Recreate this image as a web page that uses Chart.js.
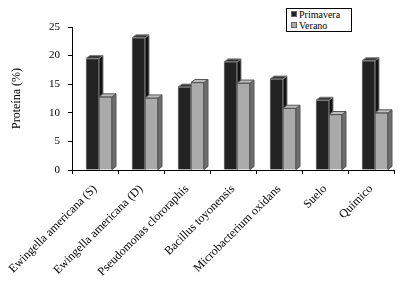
<!DOCTYPE html>
<html>
<head>
<meta charset="utf-8">
<script src="https://cdn.jsdelivr.net/npm/chart.js@4"></script>
<style>
  body { margin: 0; background: #fff; }
  #wrap { position: relative; width: 419px; height: 288px; }
  #legend {
    position: absolute; left: 286px; top: 8px; width: 64px; height: 22px;
    border: 1px solid #000; background: #fff;
    font: 10px "Liberation Serif", serif; color: #000;
  }
  #legend div { height: 11px; line-height: 11px; padding-left: 4px; white-space: nowrap; }
  #legend span {
    display: inline-block; width: 4px; height: 4px; border: 1px solid #666;
    margin-right: 2px; vertical-align: 1px;
  }
</style>
</head>
<body>
<div id="wrap">
  <canvas id="chart"></canvas>
  <div id="legend">
    <div><span style="background:#222"></span>Primavera</div>
    <div><span style="background:#aaa"></span>Verano</div>
  </div>
</div>
<script>
const categories = [
  "Ewingella americana (S)",
  "Ewingella americana (D)",
  "Pseudomonas clororaphis",
  "Bacillus toyonensis",
  "Microbacterium oxidans",
  "Suelo",
  "Químico"
];
const primavera = [19.5, 23.1, 14.5, 18.9, 15.9, 12.2, 19.1];
const verano = [12.8, 12.6, 15.3, 15.2, 10.8, 9.7, 10.0];
const yTicks = [0, 5, 10, 15, 20, 25];

const SERIF = "'Liberation Serif', 'Times New Roman', serif";
const SHIFT = 4;   // fronts sit a bit right of the category centre
const DX = 4, DY = 3; // depth of the fake 3D

const faces = [
  { side: "#111111", top: "#3a3a3a", edge: "#7f7f7f" },
  { side: "#6e6e6e", top: "#bdbdbd", edge: "#555555" }
];

function drawBlock(ctx, bar, f) {
  const x0 = bar.x - bar.width / 2, x1 = bar.x + bar.width / 2;
  const yt = bar.y, yb = bar.base;
  ctx.strokeStyle = f.edge;
  ctx.lineWidth = 1;
  ctx.fillStyle = f.side;
  ctx.beginPath();
  ctx.moveTo(x1, yt); ctx.lineTo(x1 + DX, yt - DY);
  ctx.lineTo(x1 + DX, yb - DY); ctx.lineTo(x1, yb);
  ctx.closePath(); ctx.fill(); ctx.stroke();
  ctx.fillStyle = f.top;
  ctx.beginPath();
  ctx.moveTo(x0, yt); ctx.lineTo(x0 + DX, yt - DY);
  ctx.lineTo(x1 + DX, yt - DY); ctx.lineTo(x1, yt);
  ctx.closePath(); ctx.fill(); ctx.stroke();
}

const bars3d = {
  id: "bars3d",
  beforeDatasetsDraw(chart) {
    const ctx = chart.ctx;
    ctx.save();
    ctx.translate(SHIFT, 0);
    // sides and tops of the dark bars go under the fronts
    chart.getDatasetMeta(0).data.forEach(b => drawBlock(ctx, b, faces[0]));
  },
  afterDatasetsDraw(chart) {
    const ctx = chart.ctx;
    chart.getDatasetMeta(1).data.forEach(b => drawBlock(ctx, b, faces[1]));
    ctx.restore();
  }
};

new Chart(document.getElementById("chart"), {
  type: "bar",
  data: {
    labels: categories,
    datasets: [
      { label: "Primavera", data: primavera, backgroundColor: "#222222", borderColor: "#7f7f7f", borderWidth: 1, barThickness: 13 },
      { label: "Verano", data: verano, backgroundColor: "#aaaaaa", borderColor: "#555555", borderWidth: 1, barThickness: 13 }
    ]
  },
  options: {
    responsive: true,
    maintainAspectRatio: false,
    animation: false,
    layout: { padding: { top: 27, right: 25, bottom: 0, left: 0 } },
    plugins: { legend: { display: false }, tooltip: { enabled: false } },
    scales: {
      x: {
        afterFit: s => { s.height = 118; s.paddingLeft = 0; s.paddingRight = 0; },
        grid: { drawOnChartArea: false, color: "#000", tickLength: 4 },
        border: { color: "#000", width: 1 },
        ticks: {
          color: "#000", maxRotation: 45, minRotation: 45, autoSkip: false, padding: 8,
          font: { family: SERIF, size: 12 }
        }
      },
      y: {
        min: 0, max: 25,
        afterFit: s => { s.width = 72; s.paddingTop = 0; s.paddingBottom = 0; },
        afterBuildTicks: s => { s.ticks = yTicks.map(v => ({ value: v })); },
        grid: { drawOnChartArea: false, color: "#000", tickLength: 4 },
        border: { color: "#000", width: 1 },
        ticks: { color: "#000", padding: 8, font: { family: SERIF, size: 11 } },
        title: {
          display: true, text: "Proteína (%)", color: "#000",
          padding: { top: 10, bottom: 0 },
          font: { family: SERIF, size: 12 }
        }
      }
    }
  },
  plugins: [bars3d]
});
</script>
</body>
</html>
